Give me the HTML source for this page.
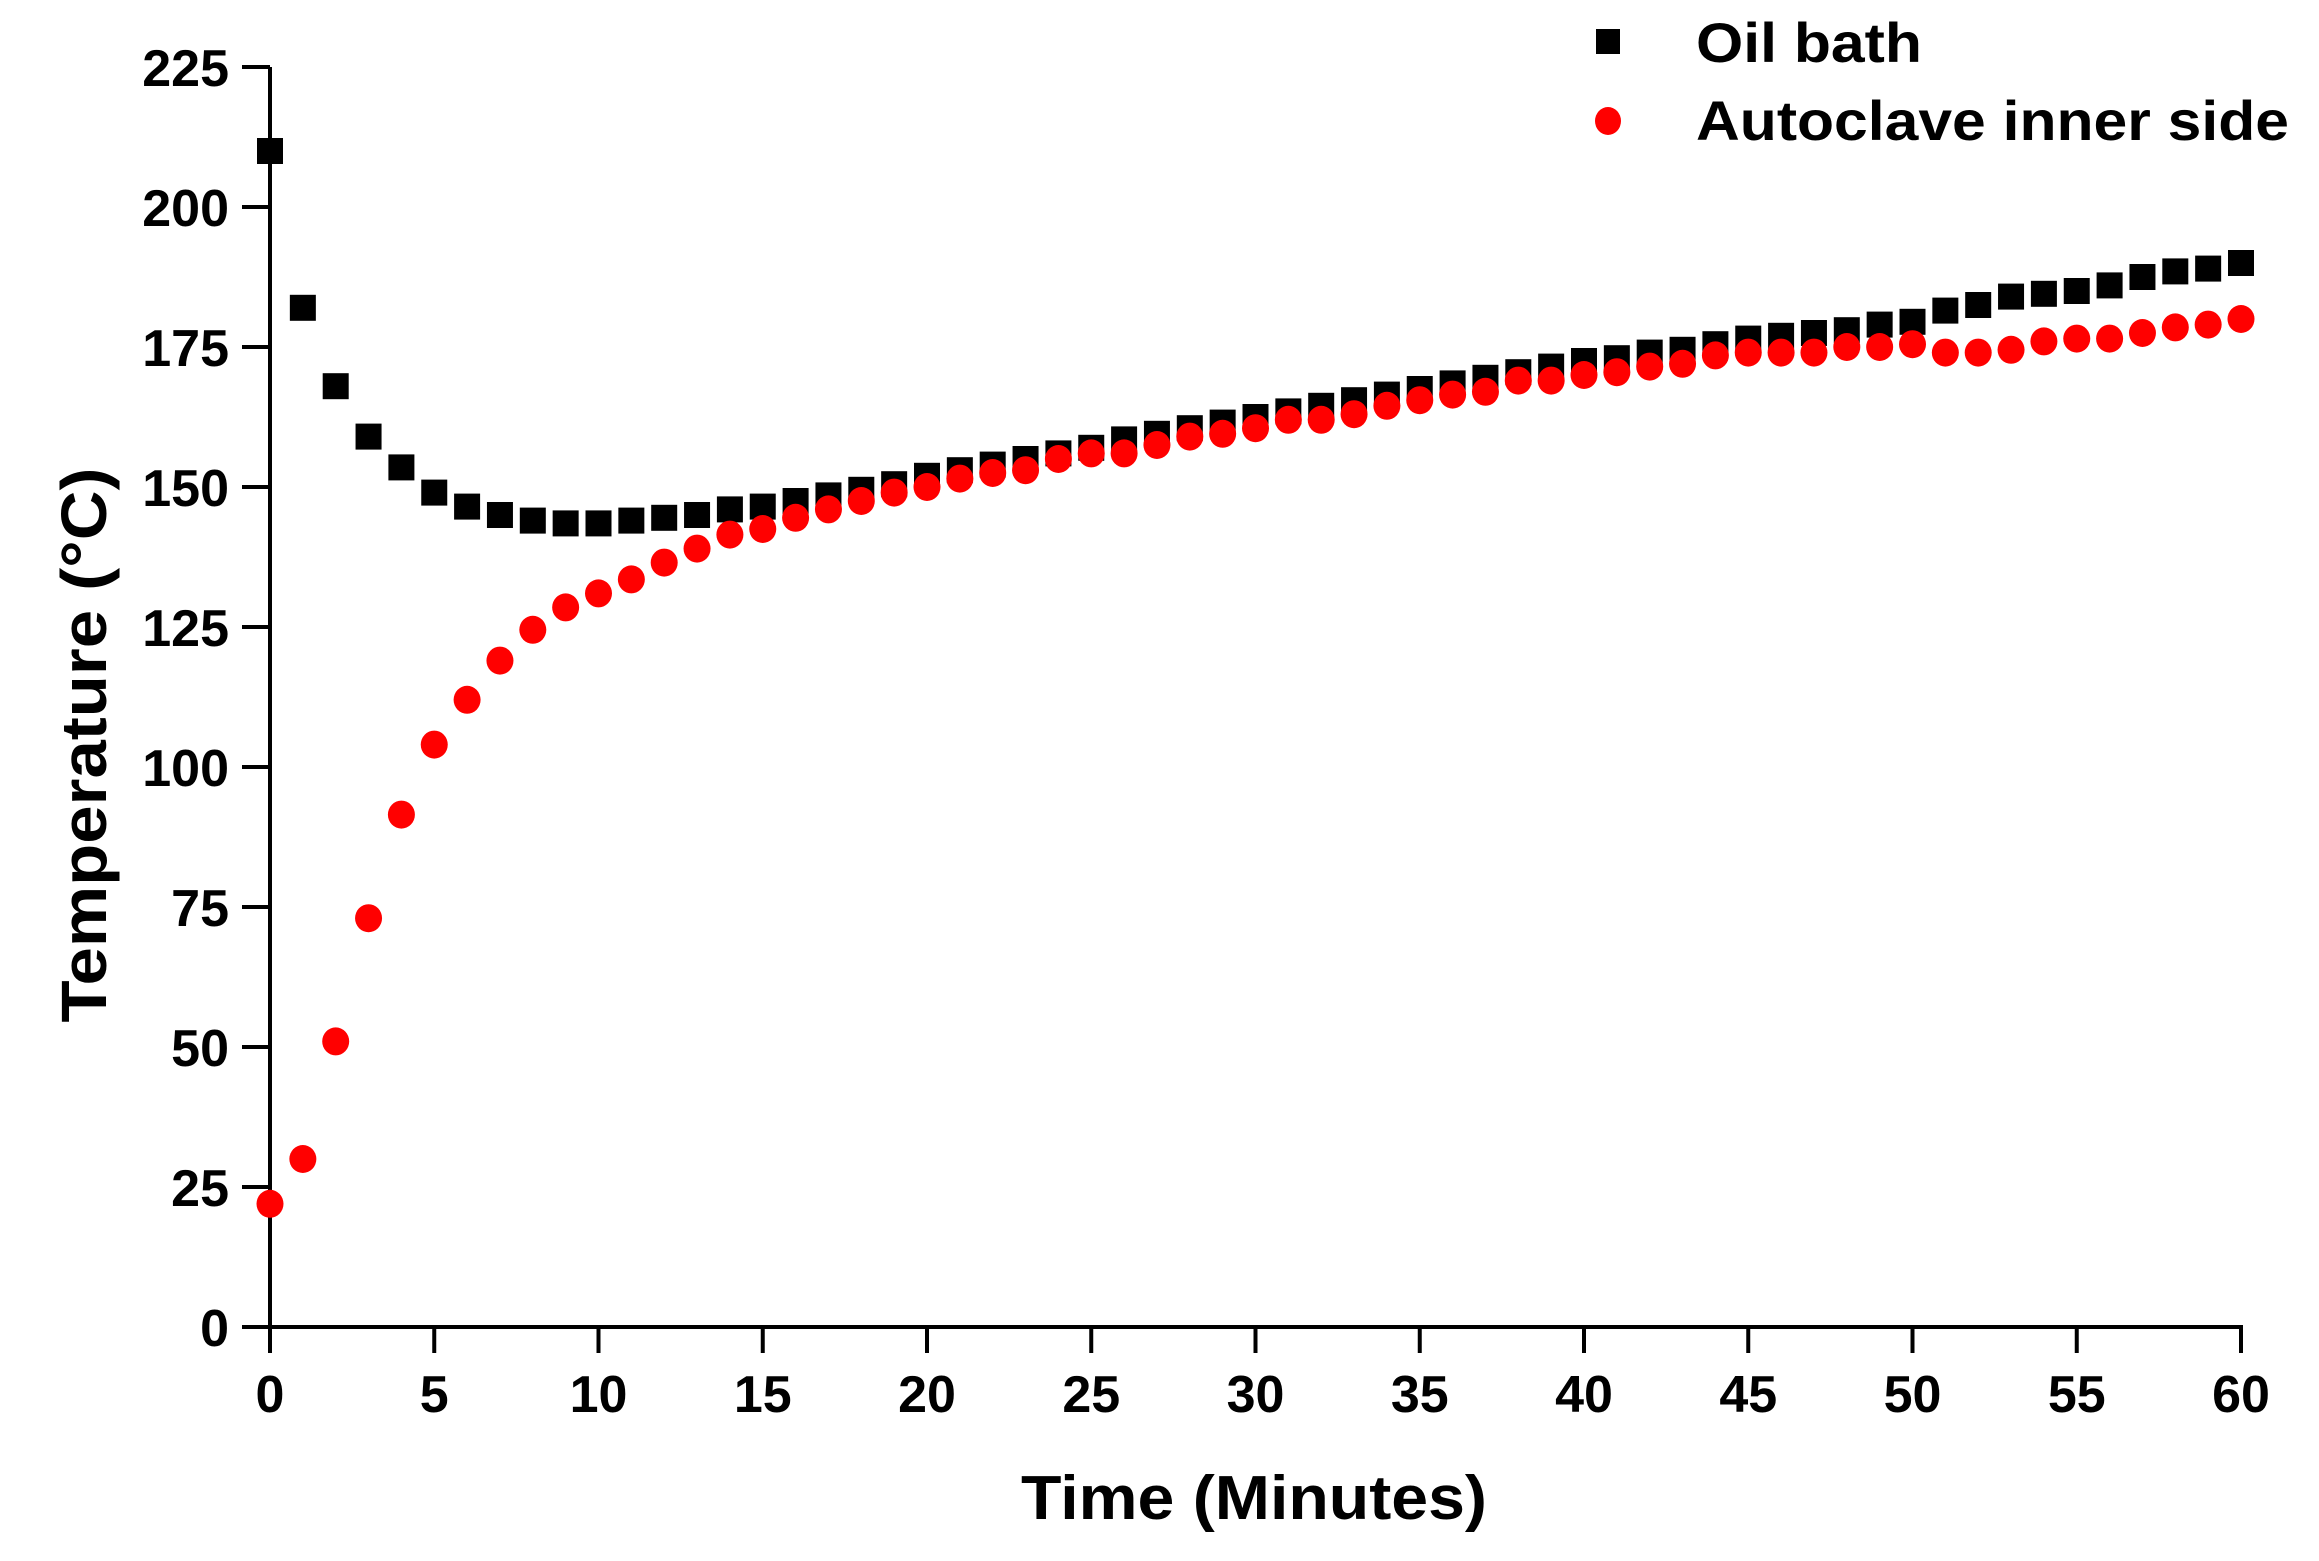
<!DOCTYPE html>
<html><head><meta charset="utf-8"><style>
html,body{margin:0;padding:0;background:#fff;}
svg{display:block;font-family:"Liberation Sans",Arial,sans-serif;font-weight:bold;}
</style></head><body>
<svg id="chart" width="2319" height="1561" viewBox="0 0 2319 1561" xmlns="http://www.w3.org/2000/svg">
<g id="axes"></g>
<g id="marks"></g>
<g>
  <rect x="1596" y="29" width="24" height="25" fill="#000"/>
  <text x="1696" y="62" font-size="56" textLength="226" lengthAdjust="spacingAndGlyphs" fill="#000">Oil bath</text>
  <ellipse cx="1608" cy="121" rx="13" ry="14" fill="#f00"/>
  <text x="1696" y="140" font-size="56" textLength="593" lengthAdjust="spacingAndGlyphs" fill="#000">Autoclave inner side</text>
</g>
<text transform="translate(106,745) rotate(-90)" text-anchor="middle" font-size="64" textLength="555" lengthAdjust="spacingAndGlyphs" fill="#000">Temperature (°C)</text>
<text x="1254" y="1519" text-anchor="middle" font-size="62" textLength="466" lengthAdjust="spacingAndGlyphs" fill="#000">Time (Minutes)</text>
</svg>
<script>
const times = [0,1,2,3,4,5,6,7,8,9,10,11,12,13,14,15,16,17,18,19,20,21,22,23,24,25,26,27,28,29,30,31,32,33,34,35,36,37,38,39,40,41,42,43,44,45,46,47,48,49,50,51,52,53,54,55,56,57,58,59,60];
const oilBath = [210,182,168,159,153.5,149,146.5,145,144,143.5,143.5,144,144.5,145,146,146.5,147.5,148.5,149.5,150.5,152,153,154,155,156,157,158.5,159.5,160.5,161.5,162.5,163.5,164.5,165.5,166.5,167.5,168.5,169.5,170.5,171.5,172.5,173,174,174.5,175.5,176.5,177,177.5,178,179,179.5,181.5,182.5,184,184.5,185,186,187.5,188.5,189,190];
const autoclave = [22,30,51,73,91.5,104,112,119,124.5,128.5,131,133.5,136.5,139,141.5,142.5,144.5,146,147.5,149,150,151.5,152.5,153,155,156,156,157.5,159,159.5,160.5,162,162,163,164.5,165.5,166.5,167,169,169,170,170.5,171.5,172,173.5,174,174,174,175,175,175.5,174,174,174.5,176,176.5,176.5,177.5,178.5,179,180];
const xTicks = [0,5,10,15,20,25,30,35,40,45,50,55,60];
const yTicks = [0,25,50,75,100,125,150,175,200,225];

const NS = "http://www.w3.org/2000/svg";
const X0 = 270, X1 = 2241, Y0 = 1327, Y1 = 67;
function xs(v){ return X0 + (v - 0) / 60 * (X1 - X0); }
function ys(v){ return Y0 - (v - 0) / 225 * (Y0 - Y1); }
function mk(tag, attrs){ const e = document.createElementNS(NS, tag); for (const k in attrs) e.setAttribute(k, attrs[k]); return e; }

const axes = document.getElementById('axes');
const yLine = mk('line', {x1:X0, y1:Y1, x2:X0, y2:Y0+26, stroke:'#000', 'stroke-width':4});


axes.appendChild(yLine);
const xLine = mk('line', {x1:X0-28, y1:Y0, x2:X1+2, y2:Y0, stroke:'#000', 'stroke-width':4});


axes.appendChild(xLine);

yTicks.forEach(v => {
  const y = ys(v);
  const t = mk('line', {x1:X0-28, y1:y, x2:X0, y2:y, stroke:'#000', 'stroke-width':4});
  
  
  axes.appendChild(t);
  const l = mk('text', {x:229, y:y+19, 'text-anchor':'end', 'font-size':52, fill:'#000'});
  l.textContent = v;
  
  
  axes.appendChild(l);
});
xTicks.forEach(v => {
  const x = xs(v);
  const t = mk('line', {x1:x, y1:Y0, x2:x, y2:Y0+26, stroke:'#000', 'stroke-width':4});
  
  
  axes.appendChild(t);
  const l = mk('text', {x:x, y:1412, 'text-anchor':'middle', 'font-size':52, fill:'#000'});
  l.textContent = v;
  
  
  axes.appendChild(l);
});

const marks = document.getElementById('marks');
times.forEach((t, i) => {
  const s = mk('rect', {x:xs(t)-13, y:ys(oilBath[i])-13, width:26, height:26, fill:'#000'});
  
  
  marks.appendChild(s);
});
times.forEach((t, i) => {
  const c = mk('ellipse', {cx:xs(t), cy:ys(autoclave[i]), rx:13.5, ry:14, fill:'#f00'});
  
  
  marks.appendChild(c);
});
</script>
</body></html>
